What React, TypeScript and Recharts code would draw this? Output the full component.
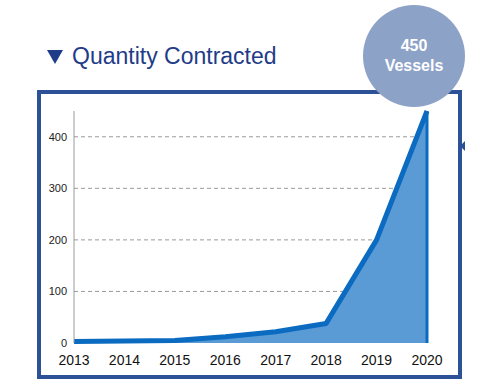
import { AreaChart, Area, XAxis, YAxis, CartesianGrid, ReferenceLine } from "recharts"

// Quantity contracted per year (vessels)
const years = ["2013", "2014", "2015", "2016", "2017", "2018", "2019", "2020"]
const vessels = [3, 4, 5, 12, 22, 38, 200, 450]
const yTicks = [0, 100, 200, 300, 400]
const gridValues = [100, 200, 300, 400]

const data = years.map((year, i) => ({ year, vessels: vessels[i] }))
const lastYear = years[years.length - 1]
const lastValue = vessels[vessels.length - 1]

const font = '"Liberation Sans", Arial, sans-serif'

export default function App() {
  return (
    <div style={{ position: "absolute", left: 0, top: 0, width: 500, height: 382, background: "#fff", fontFamily: font }}>
      {/* framed box */}
      <div
        style={{
          position: "absolute",
          left: 37,
          top: 90,
          width: 425,
          height: 289,
          border: "4px solid #2D5196",
          boxSizing: "border-box",
        }}
      />
      {/* small marker sticking out right of frame */}
      <div
        style={{
          position: "absolute",
          left: 460,
          top: 141,
          width: 0,
          height: 0,
          borderTop: "5px solid transparent",
          borderBottom: "5px solid transparent",
          borderRight: "5px solid #2D5196",
        }}
      />
      <div style={{ position: "absolute", left: 0, top: 0 }}>
        <AreaChart width={500} height={382} data={data} margin={{ top: 111, right: 73, left: 34, bottom: 9 }}>
          <CartesianGrid vertical={false} horizontalValues={gridValues} stroke="#9a9a9a" strokeDasharray="4 3" />
          <XAxis
            dataKey="year"
            tickLine={false}
            axisLine={false}
            tickMargin={6}
            height={30}
            tick={{ fontSize: 14, fill: "#111", fontFamily: font }}
            interval={0}
          />
          <YAxis
            domain={[0, 450]}
            ticks={yTicks}
            width={40}
            tickLine={false}
            tickSize={0}
            tickMargin={7}
            axisLine={{ stroke: "#9a9a9a" }}
            tick={{ fontSize: 11, fill: "#222", fontFamily: font }}
          />
          <Area
            type="linear"
            dataKey="vessels"
            stroke="#0B6BC1"
            strokeWidth={5}
            fill="#5B9BD5"
            fillOpacity={1}
            strokeLinejoin="round"
            isAnimationActive={false}
            dot={false}
            activeDot={false}
          />
          <ReferenceLine
            segment={[
              { x: lastYear, y: 0 },
              { x: lastYear, y: lastValue },
            ]}
            stroke="#0B6BC1"
            strokeWidth={3}
          />
        </AreaChart>
      </div>
      {/* title */}
      <div
        style={{
          position: "absolute",
          left: 47,
          top: 50,
          width: 0,
          height: 0,
          borderLeft: "8px solid transparent",
          borderRight: "8px solid transparent",
          borderTop: "14px solid #1F3C88",
        }}
      />
      <div
        style={{
          position: "absolute",
          left: 72,
          top: 42,
          fontSize: 23,
          color: "#1F3C88",
          lineHeight: "28px",
          whiteSpace: "nowrap",
        }}
      >
        Quantity Contracted
      </div>
      {/* badge */}
      <div
        style={{
          position: "absolute",
          left: 363,
          top: 5,
          width: 102,
          height: 102,
          borderRadius: "50%",
          background: "#8DA2C7",
          color: "#fff",
          fontWeight: "bold",
          fontSize: 16,
          lineHeight: "20px",
          textAlign: "center",
          display: "flex",
          flexDirection: "column",
          justifyContent: "center",
        }}
      >
        <div>450</div>
        <div>Vessels</div>
      </div>
    </div>
  )
}
